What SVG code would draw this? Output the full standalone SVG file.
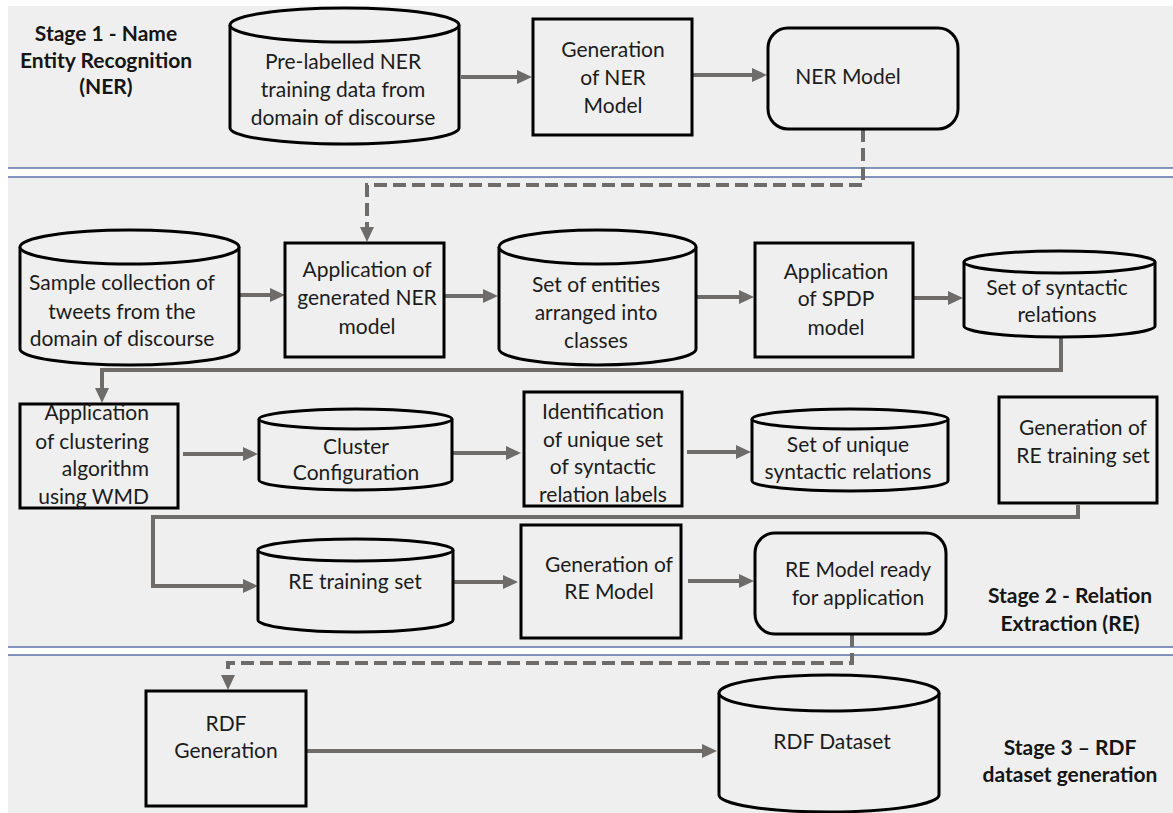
<svg xmlns="http://www.w3.org/2000/svg" width="1173" height="813" viewBox="0 0 1173 813">
  <style>
    .txt { font-family: Lato, "Open Sans", "Liberation Sans", sans-serif; font-size: 21px; fill: #1c1c1c; text-anchor: middle; }
    .stage { font-family: Lato, "Open Sans", "Liberation Sans", sans-serif; font-size: 21px; font-weight: bold; fill: #151515; text-anchor: middle; }
    .box { fill: none; stroke: #000; stroke-width: 3; }
    .cyl { fill: #efefef; stroke: #000; stroke-width: 3; }
    .sep { stroke: #5a72a6; stroke-width: 1.5; }
    .conn { fill: none; stroke: #6e6b6b; stroke-width: 4; }
    .dash { stroke-dasharray: 13 6; }
  </style>
  <defs>
    <marker id="ah" markerUnits="userSpaceOnUse" markerWidth="16" markerHeight="14" viewBox="0 0 16 14" refX="4" refY="7" orient="auto">
      <path d="M0,0 L15,7 L0,14 z" fill="#6e6b6b"/>
    </marker>
  </defs>

  <!-- page background and stage separators -->
  <rect x="0" y="0" width="1173" height="813" fill="#ffffff"/>
  <rect x="8" y="6" width="1165" height="807" fill="#efefef"/>
  <rect x="8" y="168" width="1165" height="9" fill="#ffffff"/>
  <rect x="8" y="647" width="1165" height="8" fill="#ffffff"/>
  <line class="sep" x1="8" y1="168" x2="1173" y2="168"/>
  <line class="sep" x1="8" y1="177" x2="1173" y2="177"/>
  <line class="sep" x1="8" y1="647" x2="1173" y2="647"/>
  <line class="sep" x1="8" y1="655" x2="1173" y2="655"/>

  <!-- stage captions -->
  <g id="stage1-label">
    <text class="stage" x="106" y="41">Stage 1 - Name</text>
    <text class="stage" x="106" y="68">Entity Recognition</text>
    <text class="stage" x="106" y="94">(NER)</text>
  </g>
  <g id="stage2-label">
    <text class="stage" x="1070" y="603">Stage 2 - Relation</text>
    <text class="stage" x="1070" y="631">Extraction (RE)</text>
  </g>
  <g id="stage3-label">
    <text class="stage" x="1070" y="755">Stage 3 – RDF</text>
    <text class="stage" x="1070" y="782">dataset generation</text>
  </g>

  <!-- connectors -->
  <g id="connectors">
    <path class="conn" d="M461,77 H521" marker-end="url(#ah)"/>
    <path class="conn" d="M692,75 H756" marker-end="url(#ah)"/>
    <path class="conn dash" d="M863,129 V185 H367 V231" marker-end="url(#ah)"/>
    <path class="conn" d="M239,295 H274" marker-end="url(#ah)"/>
    <path class="conn" d="M444,296 H487" marker-end="url(#ah)"/>
    <path class="conn" d="M696,297 H743" marker-end="url(#ah)"/>
    <path class="conn" d="M913,298 H952" marker-end="url(#ah)"/>
    <path class="conn" d="M1061,337 V370 H102 V392" marker-end="url(#ah)"/>
    <path class="conn" d="M183,454 H247" marker-end="url(#ah)"/>
    <path class="conn" d="M452,453 H510" marker-end="url(#ah)"/>
    <path class="conn" d="M687,452 H740" marker-end="url(#ah)"/>
    <path class="conn" d="M1078,505 V517 H153 V586 H247" marker-end="url(#ah)"/>
    <path class="conn" d="M453,582 H507" marker-end="url(#ah)"/>
    <path class="conn" d="M688,581 H743" marker-end="url(#ah)"/>
    <path class="conn dash" d="M852,634 V663 H228 V679" marker-end="url(#ah)"/>
    <path class="conn" d="M306,751 H706" marker-end="url(#ah)"/>
  </g>

  <!-- Stage 1 -->
  <g id="ner-training-data">
    <path class="cyl" d="M230,25 V128 A114.5,16 0 0 0 459,128 V25"/>
    <ellipse class="cyl" cx="344.5" cy="25" rx="114.5" ry="17"/>
    <text class="txt" x="343" y="69">Pre-labelled NER</text>
    <text class="txt" x="343" y="97">training data from</text>
    <text class="txt" x="343" y="125">domain of discourse</text>
  </g>
  <g id="ner-generation">
    <rect class="box" x="533" y="19" width="159" height="116"/>
    <text class="txt" x="613" y="57">Generation</text>
    <text class="txt" x="613" y="85">of NER</text>
    <text class="txt" x="613" y="113">Model</text>
  </g>
  <g id="ner-model">
    <rect class="box" x="768" y="28" width="190" height="101" rx="20" ry="20"/>
    <text class="txt" x="848" y="84">NER Model</text>
  </g>

  <!-- Stage 2 -->
  <g id="tweet-sample">
    <path class="cyl" d="M20,247 V349 A109.5,16 0 0 0 239,349 V247"/>
    <ellipse class="cyl" cx="129.5" cy="247" rx="109.5" ry="17"/>
    <text class="txt" x="122" y="290">Sample collection of</text>
    <text class="txt" x="122" y="319">tweets from the</text>
    <text class="txt" x="122" y="346">domain of discourse</text>
  </g>
  <g id="ner-application">
    <rect class="box" x="285" y="243" width="159" height="114"/>
    <text class="txt" x="367" y="277">Application of</text>
    <text class="txt" x="367" y="305">generated NER</text>
    <text class="txt" x="367" y="334">model</text>
  </g>
  <g id="entity-classes">
    <path class="cyl" d="M499,247 V349 A98.5,16 0 0 0 696,349 V247"/>
    <ellipse class="cyl" cx="597.5" cy="247" rx="98.5" ry="17"/>
    <text class="txt" x="596" y="292">Set of entities</text>
    <text class="txt" x="596" y="320">arranged into</text>
    <text class="txt" x="596" y="348">classes</text>
  </g>
  <g id="spdp-application">
    <rect class="box" x="755" y="243" width="158" height="114"/>
    <text class="txt" x="836" y="279">Application</text>
    <text class="txt" x="836" y="306">of SPDP</text>
    <text class="txt" x="836" y="335">model</text>
  </g>
  <g id="syntactic-relations">
    <path class="cyl" d="M964,262 V326 A95.5,11 0 0 0 1155,326 V262"/>
    <ellipse class="cyl" cx="1059.5" cy="262" rx="95.5" ry="11"/>
    <text class="txt" x="1057" y="295">Set of syntactic</text>
    <text class="txt" x="1057" y="322">relations</text>
  </g>
  <g id="clustering">
    <rect class="box" x="20" y="404" width="158" height="104"/>
    <text class="txt" x="149" y="420" style="text-anchor:end">Application</text>
    <text class="txt" x="149" y="449" style="text-anchor:end">of clustering</text>
    <text class="txt" x="149" y="476" style="text-anchor:end">algorithm</text>
    <text class="txt" x="149" y="504" style="text-anchor:end">using WMD</text>
  </g>
  <g id="cluster-configuration">
    <path class="cyl" d="M259,419 V480 A96.5,10 0 0 0 452,480 V419"/>
    <ellipse class="cyl" cx="355.5" cy="419" rx="96.5" ry="10"/>
    <text class="txt" x="356" y="454">Cluster</text>
    <text class="txt" x="356" y="480">Configuration</text>
  </g>
  <g id="label-identification">
    <rect class="box" x="524" y="392" width="158" height="114"/>
    <text class="txt" x="603" y="419">Identification</text>
    <text class="txt" x="603" y="447">of unique set</text>
    <text class="txt" x="603" y="474">of syntactic</text>
    <text class="txt" x="603" y="502">relation labels</text>
  </g>
  <g id="unique-relations">
    <path class="cyl" d="M752,419 V481 A98,10 0 0 0 948,481 V419"/>
    <ellipse class="cyl" cx="850" cy="419" rx="98" ry="10"/>
    <text class="txt" x="848" y="452">Set of unique</text>
    <text class="txt" x="848" y="479">syntactic relations</text>
  </g>
  <g id="re-training-generation">
    <rect class="box" x="999" y="397" width="158" height="106"/>
    <text class="txt" x="1083" y="435">Generation of</text>
    <text class="txt" x="1083" y="463">RE training set</text>
  </g>
  <g id="re-training-set">
    <path class="cyl" d="M258,550 V620 A97.5,12 0 0 0 453,620 V550"/>
    <ellipse class="cyl" cx="355.5" cy="550" rx="97.5" ry="11"/>
    <text class="txt" x="355" y="589">RE training set</text>
  </g>
  <g id="re-generation">
    <rect class="box" x="521" y="525" width="160" height="113"/>
    <text class="txt" x="609" y="572">Generation of</text>
    <text class="txt" x="609" y="599">RE Model</text>
  </g>
  <g id="re-model">
    <rect class="box" x="755" y="533" width="191" height="101" rx="20" ry="20"/>
    <text class="txt" x="858" y="577">RE Model ready</text>
    <text class="txt" x="858" y="605">for application</text>
  </g>

  <!-- Stage 3 -->
  <g id="rdf-generation">
    <rect class="box" x="146" y="691" width="160" height="115"/>
    <text class="txt" x="226" y="731">RDF</text>
    <text class="txt" x="226" y="758">Generation</text>
  </g>
  <g id="rdf-dataset">
    <path class="cyl" d="M719,693 V795 A110,17 0 0 0 939,795 V693"/>
    <ellipse class="cyl" cx="829" cy="693" rx="110" ry="18"/>
    <text class="txt" x="832" y="749">RDF Dataset</text>
  </g>
</svg>
